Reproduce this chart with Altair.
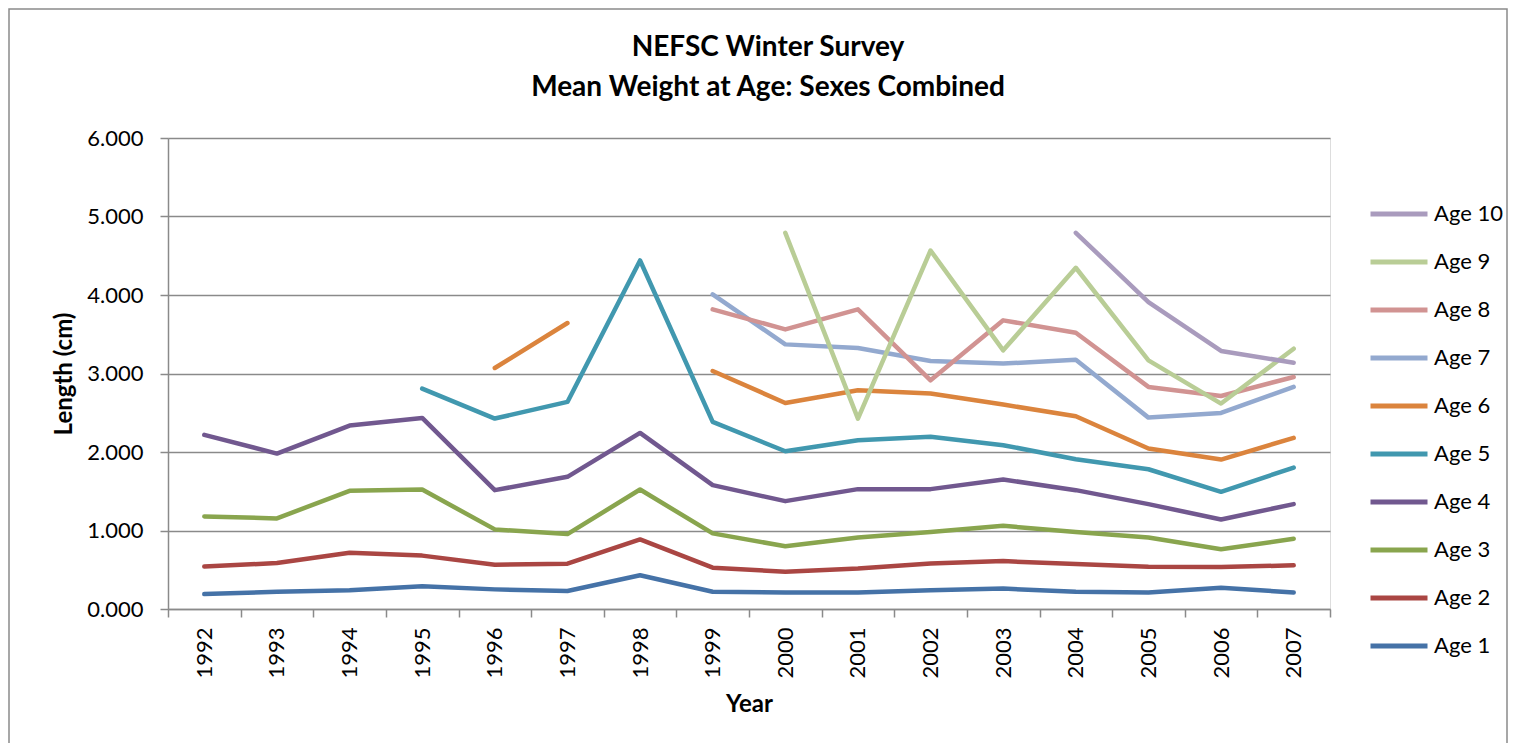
import altair as alt
import pandas as pd

years = [str(y) for y in range(1992, 2008)]

age1 = [0.19, 0.22, 0.24, 0.29, 0.25, 0.23, 0.43, 0.22, 0.21, 0.21, 0.24, 0.26, 0.22, 0.21, 0.27, 0.21]
age2 = [0.54, 0.585, 0.717, 0.68, 0.564, 0.577, 0.886, 0.526, 0.475, 0.517, 0.58, 0.61, 0.573, 0.539, 0.534, 0.556]
age3 = [1.179, 1.154, 1.506, 1.522, 1.014, 0.954, 1.522, 0.963, 0.80, 0.91, 0.98, 1.06, 0.98, 0.91, 0.76, 0.895]
age4 = [2.218, 1.98, 2.337, 2.434, 1.514, 1.684, 2.243, 1.578, 1.374, 1.527, 1.527, 1.65, 1.514, 1.336, 1.141, 1.336]
age5 = [None, None, None, 2.807, 2.426, 2.638, 4.44, 2.383, 2.01, 2.15, 2.193, 2.087, 1.908, 1.78, 1.493, 1.802]
age6 = [None, None, None, None, 3.07, 3.643, None, 3.032, 2.625, 2.786, 2.744, 2.604, 2.455, 2.044, 1.904, 2.18]
age7 = [None, None, None, None, None, None, None, 4.008, 3.371, 3.325, 3.16, 3.126, 3.176, 2.438, 2.498, 2.829]
age8 = [None, None, None, None, None, None, None, 3.817, 3.562, 3.817, 2.913, 3.677, 3.52, 2.829, 2.714, 2.956]
age9 = [None, None, None, None, None, None, None, None, 4.792, 2.426, 4.567, 3.295, 4.347, 3.168, 2.617, 3.316]
age10 = [None, None, None, None, None, None, None, None, None, None, None, None, 4.792, 3.91, 3.287, 3.138]

series_names = ["Age 1", "Age 2", "Age 3", "Age 4", "Age 5", "Age 6", "Age 7", "Age 8", "Age 9", "Age 10"]
series_values = [age1, age2, age3, age4, age5, age6, age7, age8, age9, age10]
series_colors = ["#4572A7", "#AA4643", "#89A54E", "#71588F", "#4198AF",
                 "#DB843D", "#93A9CF", "#D19392", "#B9CD96", "#A99BBD"]

rows = []
for name, vals in zip(series_names, series_values):
    seg = 0
    gap = True
    for yr, v in zip(years, vals):
        if v is None:
            gap = True
            continue
        if gap:
            seg += 1
            gap = False
        rows.append({"year": yr, "value": v, "age": name, "seg": f"{name}-{seg}"})
df = pd.DataFrame(rows)

FONT = "Lato"
GRID = "#8a8a8a"

legend_order = list(reversed(series_names))
legend_colors = list(reversed(series_colors))

lines = alt.Chart(df).mark_line(strokeWidth=4.5, strokeCap="round", strokeJoin="round").encode(
    x=alt.X(
        "year:O",
        bandPosition=0.5,
        sort=years,
        scale=alt.Scale(type="band", paddingInner=0, paddingOuter=0, domain=years),
        axis=alt.Axis(
            title="Year", tickBand="extent", labelAngle=270, labelFont=FONT, labelFontSize=22,
            labelColor="black", labelPadding=10, tickSize=8, tickColor=GRID, tickWidth=1.5,
            domainColor=GRID, domainWidth=1.5, grid=False, titleFont=FONT, titleFontSize=24,
            titleFontWeight="bold", titleColor="black", titlePadding=14,
        ),
    ),
    y=alt.Y(
        "value:Q",
        scale=alt.Scale(domain=[0, 6], nice=False),
        axis=alt.Axis(
            title="Length (cm)", values=[0, 1, 2, 3, 4, 5, 6], format=".3f", labelFont=FONT,
            labelFontSize=22, labelColor="black", labelPadding=17, tickSize=8, tickColor=GRID,
            tickWidth=1.5, domainColor=GRID, domainWidth=1.5, grid=True, gridColor=GRID,
            gridWidth=1.5, titleFont=FONT, titleFontSize=24, titleFontWeight="bold",
            titleColor="black", titlePadding=10,
        ),
    ),
    color=alt.Color(
        "age:N",
        scale=alt.Scale(domain=legend_order, range=legend_colors),
        legend=alt.Legend(
            orient="none", legendX=1200, legendY=56, title=None, symbolType="stroke",
            symbolSize=3249, symbolStrokeWidth=5, clipHeight=40, rowPadding=8,
            labelFont=FONT, labelFontSize=22, labelColor="black", labelOffset=4,
        ),
    ),
    detail="seg:N",
)

frame = alt.Chart(pd.DataFrame({"k": [0]})).mark_rect(
    filled=False, stroke=GRID, strokeWidth=1.5
).encode(
    x=alt.value(-159), x2=alt.value(1339), y=alt.value(-129), y2=alt.value(700)
)

chart = alt.layer(frame, lines).properties(
    width=1162,
    height=471,
    autosize=alt.AutoSizeParams(type="none"),
    padding={"left": 160, "top": 130, "right": 178, "bottom": 134},
    title=alt.TitleParams(
        ["NEFSC Winter Survey", "Mean Weight at Age: Sexes Combined"],
        font=FONT, fontSize=28, fontWeight="bold", color="black", anchor="middle",
        frame="group", dx=19, offset=-94, lineHeight=40,
    ),
).configure_view(stroke=None).configure(background="white")

chart.save("out.html", embed_options={"renderer": "svg", "actions": False})
